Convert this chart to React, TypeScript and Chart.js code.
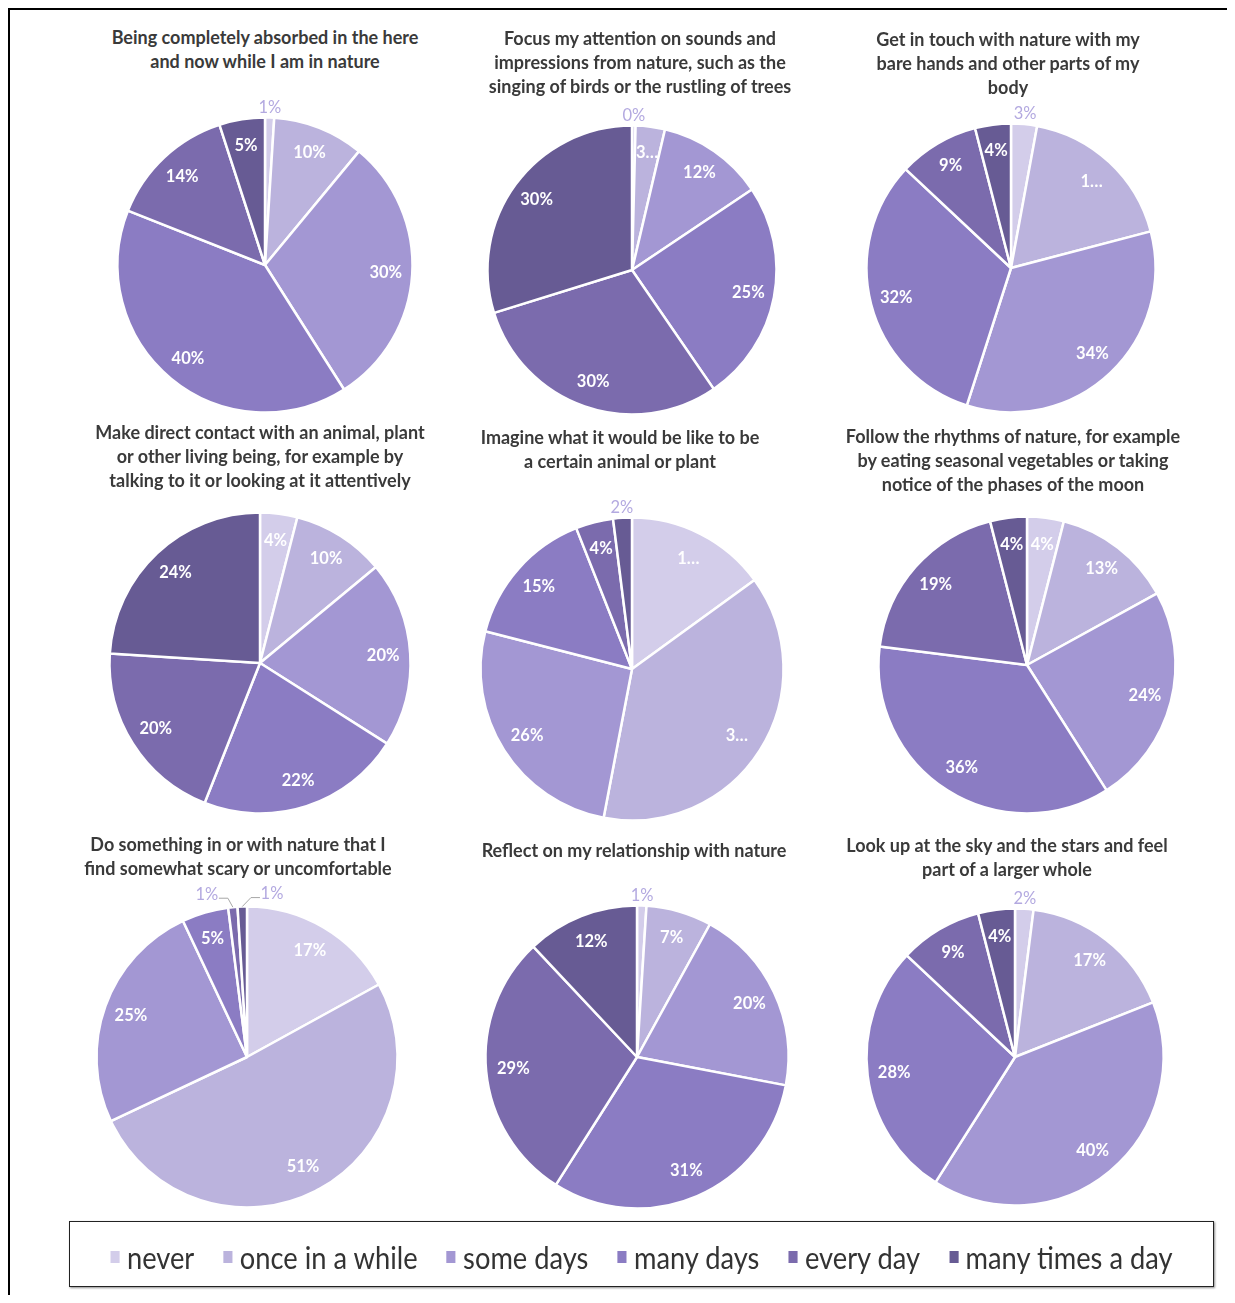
import React, { useEffect, useRef } from "react";
import { Chart, registerables } from "chart.js";

Chart.register(...registerables);

// ---------- data ----------
const categories = ["never", "once in a while", "some days", "many days", "every day", "many times a day"];
const sliceColors = ["#d3cdea", "#bbb3dd", "#a397d3", "#8b7cc3", "#7b6bad", "#675b94"];

const titles = [
  "Being completely absorbed in the here\nand now while I am in nature",
  "Focus my attention on sounds and\nimpressions from nature, such as the\nsinging of birds or the rustling of trees",
  "Get in touch with nature with my\nbare hands and other parts of my\nbody",
  "Make direct contact with an animal, plant\nor other living being, for example by\ntalking to it or looking at it attentively",
  "Imagine what it would be like to be\na certain animal or plant",
  "Follow the rhythms of nature, for example\nby eating seasonal vegetables or taking\nnotice of the phases of the moon",
  "Do something in or with nature that I\nfind somewhat scary or uncomfortable",
  "Reflect on my relationship with nature",
  "Look up at the sky and the stars and feel\npart of a larger whole",
];

// percentages per question, in category order
const absorbed = [1, 10, 30, 40, 14, 5];
const sounds = [0.4, 3.3, 12, 25, 30, 30];
const touch = [2.9, 18, 34, 32, 9, 4];
const contact = [4, 10, 20, 22, 20, 24];
const imagine = [15, 38, 26, 15, 4, 2];
const rhythms = [4, 13, 24, 36, 19, 4];
const scary = [17, 51, 25, 5, 1, 1];
const reflect = [1, 7, 20, 31, 29, 12];
const sky = [2, 17, 40, 28, 9, 4];

const series = [absorbed, sounds, touch, contact, imagine, rhythms, scary, reflect, sky];

// labels that the original shows truncated: [chart, slice]
const clippedLabels: [number, number][] = [[1, 1], [2, 1], [4, 0], [4, 1]];

// ---------- layout (page coordinates) ----------
const layout = [
  { cx: 265, cy: 265, r: 147, tx: 265, ty: 37 },
  { cx: 632, cy: 270, r: 144, tx: 640, ty: 38 },
  { cx: 1011, cy: 268, r: 144, tx: 1008, ty: 39 },
  { cx: 260, cy: 663, r: 150, tx: 260, ty: 432 },
  { cx: 632, cy: 669, r: 151, tx: 620, ty: 437 },
  { cx: 1027, cy: 665, r: 148, tx: 1013, ty: 436 },
  { cx: 247, cy: 1057, r: 150, tx: 238, ty: 844 },
  { cx: 637, cy: 1057, r: 151, tx: 634, ty: 850 },
  { cx: 1015, cy: 1057, r: 148, tx: 1007, ty: 845 },
];

const OFF = 8; // body margin
const PAD = 36;
const BORDER = 2.5;
const FONT = "Lato, 'Open Sans', sans-serif";

function PieCell({ idx }: { idx: number }) {
  const ref = useRef<HTMLCanvasElement>(null);
  const L = layout[idx];
  const size = 2 * (L.r + PAD);

  useEffect(() => {
    const values = series[idx];
    const labelPlugin = {
      id: "sliceLabels" + idx,
      afterDatasetsDraw(chart: any) {
        const ctx = chart.ctx;
        const meta = chart.getDatasetMeta(0);
        const outs: any[] = [];
        ctx.save();
        ctx.textAlign = "center";
        ctx.textBaseline = "middle";
        meta.data.forEach((arc: any, i: number) => {
          const p = arc.getProps(["x", "y", "startAngle", "endAngle", "outerRadius"], true);
          const mid = (p.startAngle + p.endAngle) / 2;
          const v = values[i];
          let text = Math.round(v) + "%";
          if (clippedLabels.some(([c, s]) => c === idx && s === i)) text = text[0] + "…";
          if (v < 3) {
            const d = p.outerRadius + 10;
            outs.push({
              x: p.x + Math.cos(mid) * d,
              y: p.y + Math.sin(mid) * d,
              ex: p.x + Math.cos(mid) * p.outerRadius,
              ey: p.y + Math.sin(mid) * p.outerRadius,
              text,
              side: 0,
            });
          } else {
            const d = p.outerRadius * 0.82;
            ctx.font = "bold 16.5px " + FONT;
            ctx.fillStyle = "#ffffff";
            ctx.fillText(text, p.x + Math.cos(mid) * d, p.y + Math.sin(mid) * d);
          }
        });
        for (let k = 1; k < outs.length; k++) {
          if (Math.abs(outs[k].x - outs[k - 1].x) < 26) {
            outs[k - 1].x -= 25;
            outs[k].x += 30;
            outs[k - 1].y -= 3;
            outs[k].y -= 3;
            outs[k - 1].side = -1;
            outs[k].side = 1;
          }
        }
        outs.forEach((o) => {
          if (o.side !== 0) {
            const sx = o.x - o.side * 12;
            const sy = o.y + 4;
            ctx.strokeStyle = "#a6a6a6";
            ctx.lineWidth = 1;
            ctx.beginPath();
            ctx.moveTo(sx, sy);
            ctx.lineTo(sx - o.side * 9, sy);
            ctx.lineTo(o.ex, o.ey);
            ctx.stroke();
          }
          ctx.font = "16.5px " + FONT;
          ctx.fillStyle = "#b3a9e0";
          ctx.fillText(o.text, o.x, o.y);
        });
        ctx.restore();
      },
    };

    const chart = new Chart(ref.current as HTMLCanvasElement, {
      type: "pie",
      data: {
        labels: categories,
        datasets: [
          {
            data: values,
            backgroundColor: sliceColors,
            borderColor: "#ffffff",
            borderWidth: BORDER,
          },
        ],
      },
      options: {
        responsive: false,
        animation: false,
        devicePixelRatio: 1,
        layout: { padding: PAD - BORDER / 2 - 0.5 },
        plugins: {
          legend: { display: false },
          tooltip: { enabled: false },
          title: { display: false },
        },
      },
      plugins: [labelPlugin],
    } as any);
    return () => chart.destroy();
  }, [idx]);

  return (
    <>
      <div
        style={{
          position: "absolute",
          left: L.tx - OFF - 230,
          top: L.ty - OFF - 12,
          width: 460,
          textAlign: "center",
          whiteSpace: "pre-line",
          fontFamily: FONT,
          fontWeight: 700,
          fontSize: 18,
          lineHeight: "24px",
          color: "#3a3a3a",
        }}
      >
        {titles[idx]}
      </div>
      <canvas
        ref={ref}
        width={size}
        height={size}
        style={{
          position: "absolute",
          left: L.cx - OFF - L.r - PAD,
          top: L.cy - OFF - L.r - PAD,
          width: size,
          height: size,
        }}
      />
    </>
  );
}

export default function App() {
  return (
    <div style={{ position: "relative", width: 1227, height: 1287, overflow: "hidden", background: "#fff" }}>
      <div style={{ position: "absolute", left: 0, top: 0, width: 1227, height: 2, background: "#000" }} />
      <div style={{ position: "absolute", left: 0, top: 0, width: 2, height: 1287, background: "#000" }} />
      {series.map((_, i) => (
        <PieCell key={i} idx={i} />
      ))}
      <div
        style={{
          position: "absolute",
          left: 61,
          top: 1213,
          width: 1145,
          height: 66,
          boxSizing: "border-box",
          border: "1px solid #222",
          boxShadow: "1px 1px 2px rgba(0,0,0,0.45)",
          display: "flex",
          alignItems: "center",
          justifyContent: "center",
          paddingTop: 6,
        }}
      >
        <div
          style={{
            display: "flex",
            alignItems: "center",
            gap: 32,
            transform: "scaleX(0.91)",
            transformOrigin: "center",
            whiteSpace: "nowrap",
            fontFamily: FONT,
            fontSize: 30,
            color: "#333333",
          }}
        >
          {categories.map((c, i) => (
            <div key={c} style={{ display: "flex", alignItems: "center", gap: 8 }}>
              <span style={{ display: "inline-block", width: 10, height: 12, background: sliceColors[i] }} />
              <span>{c}</span>
            </div>
          ))}
        </div>
      </div>
    </div>
  );
}
